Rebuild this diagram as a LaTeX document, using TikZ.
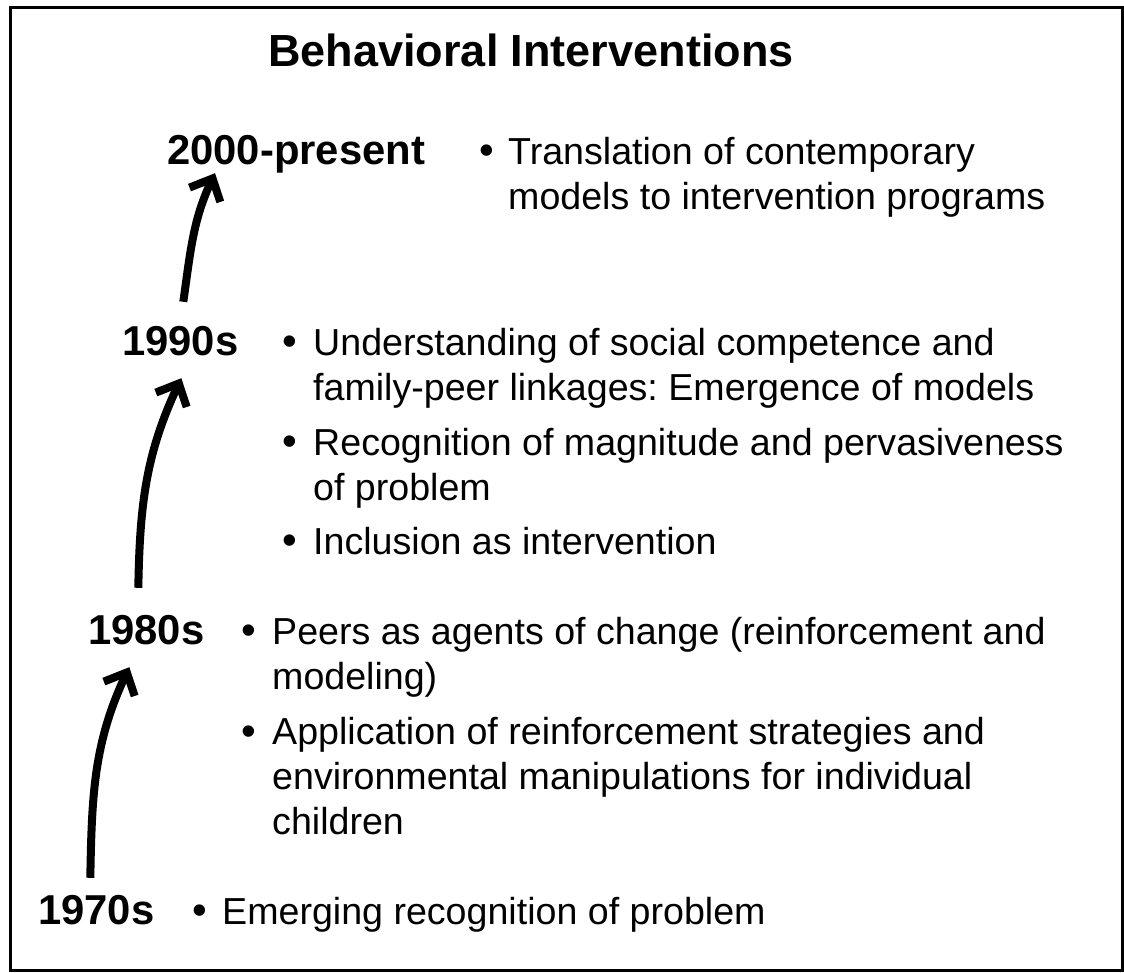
\documentclass[tikz,border=0pt]{standalone}
\usepackage{fontspec}
\setmainfont{Liberation Sans}
\usetikzlibrary{arrows.meta}

\begin{document}
\begin{tikzpicture}[x=1pt,y=1pt]
\useasboundingbox (0,0) rectangle (1124,973);
\draw[line width=3pt] (10,2) rectangle (1122,965);
\node[inner sep=0pt,anchor=base,font=\bfseries\fontsize{45}{54}\selectfont] (title) at (531,906) {Behavioral Interventions};
\begin{scope}[every node/.style={inner sep=0pt,anchor=base west,text height=30pt,text depth=9pt,font=\bfseries\fontsize{41.8}{45}\selectfont}]
    \node (y00) at (167,808) {2000-present};
    \node (y90) at (122,617) {1990s};
    \node (y80) at (88,328) {1980s};
    \node (y70) at (38,48) {1970s};
\end{scope}
\begin{scope}[every node/.style={inner sep=0pt,anchor=base,font=\fontsize{42}{45}\selectfont}]
    \node (p00a) at (487,808) {\textbullet};
    \node (p90a) at (290,617) {\textbullet};
    \node (p90b) at (290,517) {\textbullet};
    \node (p90c) at (290,418) {\textbullet};
    \node (p80a) at (249,328) {\textbullet};
    \node (p80b) at (249,227) {\textbullet};
    \node (p70a) at (200,48) {\textbullet};
\end{scope}
% multi-line nodes sit on the baseline of their last line
\begin{scope}[every node/.style={inner sep=0pt,anchor=base west,align=left,font=\fontsize{37.6}{45}\selectfont\frenchspacing}]
    \node (t00a) at (508,763) {Translation of contemporary\\models to intervention programs};
    \node (t90a) at (313,572) {Understanding of social competence and\\family-peer linkages: Emergence of models};
    \node (t90b) at (313,472) {Recognition of magnitude and pervasiveness\\of problem};
    \node (t90c) at (313,418) {Inclusion as intervention};
    \node (t80a) at (272,283) {Peers as agents of change (reinforcement and\\modeling)};
    \node (t80b) at (272,138) {Application of reinforcement strategies and\\environmental manipulations for individual\\children};
    \node (t70a) at (222,48) {Emerging recognition of problem};
\end{scope}
\begin{scope}[line width=8pt,>={Straight Barb[length=18pt,width=34pt]}]
    \draw[->] ([xshift=-6pt,yshift=17pt]y70.north) to[out=89,in=245] ([xshift=-17pt,yshift=-13pt]y80.south);
    \draw[->] ([xshift=-8pt,yshift=27pt]y80.north) to[out=89,in=245] ([xshift=1pt,yshift=-13pt]y90.south);
    \draw[->] ([xshift=3pt,yshift=24pt]y90.north) to[out=82,in=245] ([xshift=48pt,yshift=1pt]y00.south west);
\end{scope}
\end{tikzpicture}
\end{document}
